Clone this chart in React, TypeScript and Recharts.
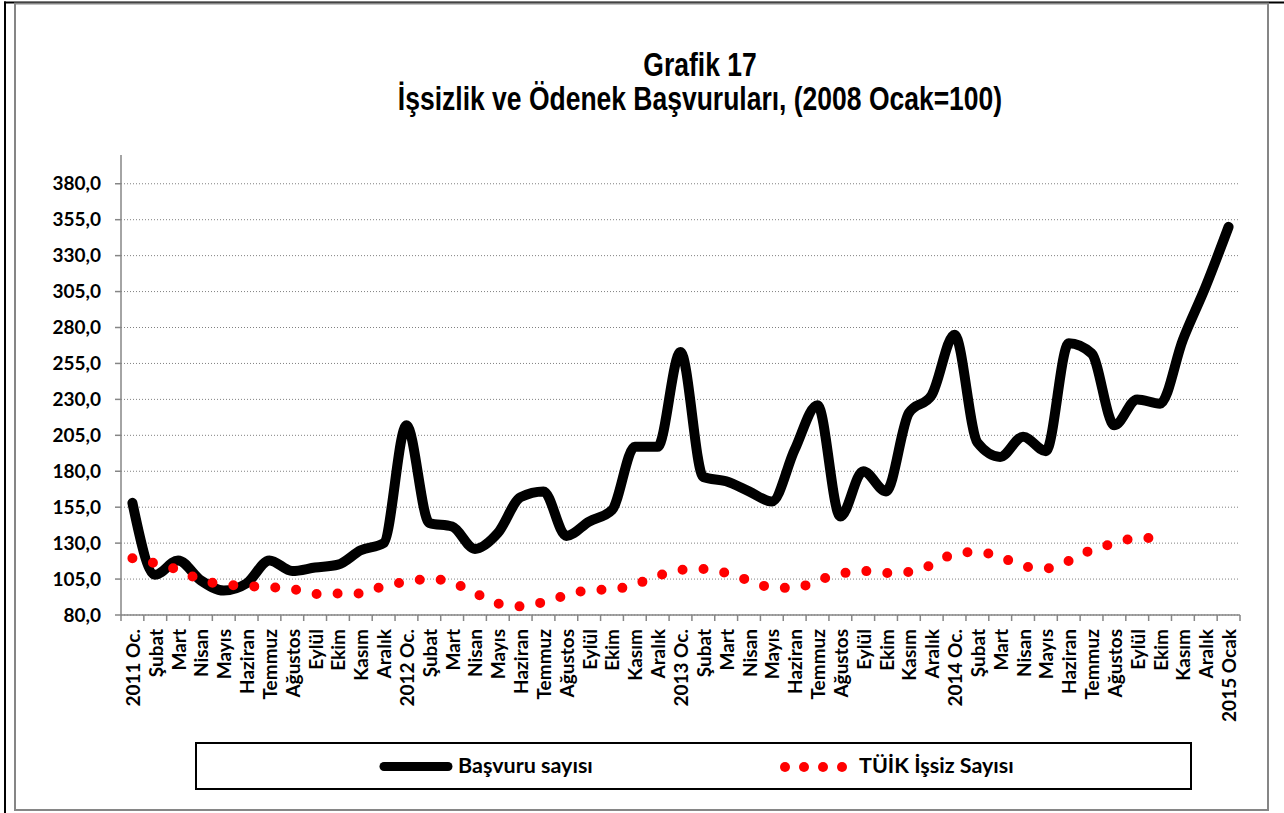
import { CartesianGrid, ComposedChart, Line, XAxis, YAxis } from 'recharts'

const aylar = [
  '2011 Oc.', 'Şubat', 'Mart', 'Nisan', 'Mayıs', 'Haziran', 'Temmuz', 'Ağustos', 'Eylül', 'Ekim', 'Kasım', 'Aralık',
  '2012 Oc.', 'Şubat', 'Mart', 'Nisan', 'Mayıs', 'Haziran', 'Temmuz', 'Ağustos', 'Eylül', 'Ekim', 'Kasım', 'Aralık',
  '2013 Oc.', 'Şubat', 'Mart', 'Nisan', 'Mayıs', 'Haziran', 'Temmuz', 'Ağustos', 'Eylül', 'Ekim', 'Kasım', 'Aralık',
  '2014 Oc.', 'Şubat', 'Mart', 'Nisan', 'Mayıs', 'Haziran', 'Temmuz', 'Ağustos', 'Eylül', 'Ekim', 'Kasım', 'Aralık',
  '2015 Ocak',
]

// Başvuru sayısı (2008 Ocak=100)
const basvuru = [
  158, 108, 118, 104, 97, 102, 118, 110.6, 113, 115, 125, 130,
  212, 144, 141.5, 126, 137, 162, 166, 135, 145, 153, 197, 197,
  263, 176, 173, 166, 159, 195, 226, 148.5, 180, 166, 220.5, 233,
  275, 200, 190, 204, 194, 269, 262, 212, 230, 227, 271.5, 308.6,
  350,
]

// TÜİK işsiz sayısı (2008 Ocak=100), Ekim 2014'e kadar
const tuik = [
  119.5, 116, 111.3, 104.4, 101.2, 100.2, 99.3, 98.1, 94.6, 95, 95, 100.2,
  103, 105.1, 102.6, 95.3, 88, 86, 89, 93.7, 97.3, 97.8, 101.2, 107.2,
  111.3, 112, 109.2, 104, 99.2, 98.8, 104, 108.6, 110.6, 109.2, 110, 114.8,
  122.5, 123.9, 120.4, 114.1, 112.4, 117.6, 125.3, 129.8, 133.6, 133.6, null, null,
  null,
]

const yTicks = [80, 105, 130, 155, 180, 205, 230, 255, 280, 305, 330, 355, 380]
const Y_MIN = 80
const Y_MAX = 400

const data = aylar.map((ay, i) => ({ ay, basvuru: basvuru[i], tuik: tuik[i] }))

const W = 1284
const H = 813
const MARGIN = { top: 155, right: 44, bottom: 0, left: 0 }
const Y_AXIS_W = 121
const X_AXIS_H = 198
const BAND = (W - MARGIN.left - MARGIN.right - Y_AXIS_W) / aylar.length
const HALF = Math.round((BAND / 2) * 100) / 100
const AXIS_GREY = '#868686'
const LABEL_FONT = 'Lato, "Open Sans", sans-serif'

// grid only on the labelled ticks (no line at the 400 top edge)
function gridRows(props: any) {
  const top = props?.offset?.top ?? MARGIN.top
  const h = props?.offset?.height ?? H - MARGIN.top - MARGIN.bottom - X_AXIS_H
  return yTicks.map((t) => top + (h * (Y_MAX - t)) / (Y_MAX - Y_MIN))
}

function AyTick(props: any) {
  const { x, y, payload, index } = props
  const left = x - BAND / 2
  const right = x + BAND / 2
  return (
    <g>
      <line x1={left} y1={y - 14} x2={left} y2={y - 8} stroke={AXIS_GREY} strokeWidth={1.5} />
      {index === aylar.length - 1 && (
        <line x1={right} y1={y - 14} x2={right} y2={y - 8} stroke={AXIS_GREY} strokeWidth={1.5} />
      )}
      <text
        x={x}
        y={y}
        transform={`rotate(-90 ${x} ${y})`}
        textAnchor="end"
        dominantBaseline="central"
        fontFamily={LABEL_FONT}
        fontWeight={700}
        fontSize={19}
        fill="#000"
      >
        {payload.value}
      </text>
    </g>
  )
}

export default function App() {
  return (
    <div style={{ position: 'absolute', left: 0, top: 0, width: W, height: H, background: '#fff' }}>
      <ComposedChart width={W} height={H} data={data} margin={MARGIN}>
        <CartesianGrid
          vertical={false}
          stroke="#808080"
          strokeDasharray="1 2"
          horizontalCoordinatesGenerator={gridRows}
        />
        <XAxis
          dataKey="ay"
          padding={{ left: HALF, right: HALF }}
          height={X_AXIS_H}
          interval={0}
          tickSize={6}
          tickMargin={8}
          tickLine={false}
          axisLine={{ stroke: AXIS_GREY, strokeWidth: 1.5 }}
          tick={<AyTick />}
        />
        <YAxis
          type="number"
          domain={[Y_MIN, Y_MAX]}
          ticks={yTicks}
          interval={0}
          width={Y_AXIS_W}
          tickSize={6}
          tickMargin={14}
          tickLine={{ stroke: AXIS_GREY, strokeWidth: 1.5 }}
          axisLine={{ stroke: AXIS_GREY, strokeWidth: 1.5 }}
          tick={{ fontFamily: LABEL_FONT, fontWeight: 700, fontSize: 19, fill: '#000' }}
          tickFormatter={(v: number) => v.toFixed(1).replace('.', ',')}
        />
        <Line
          dataKey="basvuru"
          type="monotone"
          stroke="#000"
          strokeWidth={10}
          strokeLinecap="round"
          strokeLinejoin="round"
          dot={false}
          activeDot={false}
          isAnimationActive={false}
        />
        <Line
          dataKey="tuik"
          type="monotone"
          stroke="#ff0000"
          strokeWidth={10}
          strokeDasharray="0 21"
          strokeLinecap="round"
          dot={false}
          activeDot={false}
          isAnimationActive={false}
        />
      </ComposedChart>

      <svg width={W} height={H} style={{ position: 'absolute', left: 0, top: 0, pointerEvents: 'none' }}>
        <rect x={4} y={1.5} width={1280} height={2} fill="#000" />
        <rect x={4} y={1.5} width={2} height={812} fill="#000" />
        <rect x={15} y={3.5} width={1253} height={806.5} fill="none" stroke={AXIS_GREY} strokeWidth={2} />

        <g fontFamily='"Liberation Sans", Arial, sans-serif' fontWeight={700} fontSize={26.5} textAnchor="middle" fill="#000">
          <text transform="translate(700 76) scale(1 1.24)">Grafik 17</text>
          <text transform="translate(700 110) scale(1 1.24)">İşsizlik ve Ödenek Başvuruları, (2008 Ocak=100)</text>
        </g>

        <rect x={196} y={743} width={995} height={46} fill="none" stroke="#000" strokeWidth={2} />
        <line x1={384} y1={766.5} x2={448} y2={766.5} stroke="#000" strokeWidth={9} strokeLinecap="round" />
        <text x={458} y={773} fontFamily={LABEL_FONT} fontWeight={700} fontSize={21.5} fill="#000">
          Başvuru sayısı
        </text>
        {[785, 804, 823, 842].map((cx) => (
          <circle key={cx} cx={cx} cy={767} r={5} fill="#ff0000" />
        ))}
        <text x={859} y={773} fontFamily={LABEL_FONT} fontWeight={700} fontSize={21.5} fill="#000">
          TÜİK İşsiz Sayısı
        </text>
      </svg>
    </div>
  )
}
